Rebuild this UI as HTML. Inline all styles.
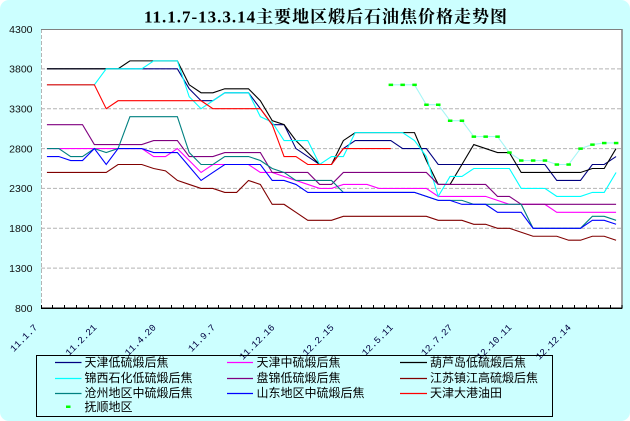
<!DOCTYPE html>
<html><head><meta charset="utf-8"><style>
html,body{margin:0;padding:0;background:#fff;}
svg{display:block;}
</style></head><body>
<svg width="630" height="421" viewBox="0 0 630 421" xmlns="http://www.w3.org/2000/svg">
<rect x="0" y="0" width="630" height="421" rx="9" ry="9" fill="#CCFFFF"/>
<text x="144" y="22.5" textLength="363" lengthAdjust="spacing" font-family="'Liberation Serif','Noto Serif CJK SC',serif" font-weight="bold" font-size="17" fill="#000">11.1.7-13.3.14主要地区煅后石油焦价格走势图</text>
<rect x="41" y="29" width="581" height="279" fill="#fff"/>
<g stroke="#b4b4b4" stroke-width="1" stroke-dasharray="4,2" fill="none">
<line x1="41" y1="68.9" x2="621" y2="68.9"/>
<line x1="41" y1="108.7" x2="621" y2="108.7"/>
<line x1="41" y1="148.6" x2="621" y2="148.6"/>
<line x1="41" y1="188.4" x2="621" y2="188.4"/>
<line x1="41" y1="228.3" x2="621" y2="228.3"/>
<line x1="41" y1="268.1" x2="621" y2="268.1"/>
<line x1="41.5" y1="29" x2="41.5" y2="308"/>
</g>
<line x1="41" y1="29.5" x2="622" y2="29.5" stroke="#808080" stroke-width="1"/>
<line x1="622" y1="29" x2="622" y2="309" stroke="#808080" stroke-width="1.5"/>
<line x1="41" y1="308.2" x2="622" y2="308.2" stroke="#000" stroke-width="1.5"/>
<path stroke="#000" stroke-width="1" fill="none" d="M41.5 305V308M52.5 305V308M64.5 305V308M76.5 305V308M88.5 305V308M100.5 305V308M112.5 305V308M124.5 305V308M135.5 305V308M147.5 305V308M159.5 305V308M171.5 305V308M183.5 305V308M195.5 305V308M207.5 305V308M218.5 305V308M230.5 305V308M242.5 305V308M254.5 305V308M266.5 305V308M278.5 305V308M290.5 305V308M301.5 305V308M313.5 305V308M325.5 305V308M337.5 305V308M349.5 305V308M361.5 305V308M373.5 305V308M384.5 305V308M396.5 305V308M408.5 305V308M420.5 305V308M432.5 305V308M444.5 305V308M456.5 305V308M467.5 305V308M479.5 305V308M491.5 305V308M503.5 305V308M515.5 305V308M527.5 305V308M539.5 305V308M550.5 305V308M562.5 305V308M574.5 305V308M586.5 305V308M598.5 305V308M610.5 305V308M622 305V308"/>
<g font-family="'Liberation Sans',sans-serif" font-size="10.5" fill="#111" text-anchor="end">
<text x="32.5" y="32.8">4300</text>
<text x="32.5" y="72.7">3800</text>
<text x="32.5" y="112.5">3300</text>
<text x="32.5" y="152.4">2800</text>
<text x="32.5" y="192.2">2300</text>
<text x="32.5" y="232.1">1800</text>
<text x="32.5" y="271.9">1300</text>
<text x="32.5" y="311.8">800</text>
</g>
<g font-family="'Liberation Mono',monospace" font-size="9.5" fill="#000040" text-anchor="end">
<text transform="translate(37.9,328) rotate(-45)">11.1.7</text>
<text transform="translate(97.2,328) rotate(-45)">11.2.21</text>
<text transform="translate(156.5,328) rotate(-45)">11.4.20</text>
<text transform="translate(215.8,328) rotate(-45)">11.9.7</text>
<text transform="translate(275.1,328) rotate(-45)">11.12.16</text>
<text transform="translate(334.4,328) rotate(-45)">12.2.15</text>
<text transform="translate(393.6,328) rotate(-45)">12.5.11</text>
<text transform="translate(452.9,328) rotate(-45)">12.7.27</text>
<text transform="translate(512.2,328) rotate(-45)">12.10.11</text>
<text transform="translate(571.5,328) rotate(-45)">12.12.14</text>
</g>
<g transform="matrix(11.857 0 0 -0.07971 46.93 371.75)" fill="none" stroke-width="1.1" stroke-linejoin="miter">
<polyline vector-effect="non-scaling-stroke" stroke="#a6f6f6" points="29,3600 31,3600 32,3350 33,3350 34,3150 35,3150 36,2950 38,2950 39,2750 40,2650 42,2650 43,2600 44,2600 45,2800 46,2850 47,2870 48,2870"/>
<polyline vector-effect="non-scaling-stroke" stroke="#000080" points="0,3800 11,3800 12,3550 13,3400 14,3400 15,3500 17,3500 18,3300 19,3100 20,3100 21,2800 22,2700 23,2600 24,2600 25,2800 26,2900 29,2900 30,2800 32,2800 33,2600 42,2600 43,2400 45,2400 46,2600 47,2600 48,2700"/>
<polyline vector-effect="non-scaling-stroke" stroke="#FF00FF" points="0,2800 8,2800 9,2700 10,2700 11,2800 12,2650 13,2500 14,2600 17,2600 18,2500 19,2500 20,2450 21,2400 22,2350 23,2300 24,2300 25,2350 27,2350 28,2300 32,2300 33,2200 37,2200 38,2150 39,2100 42,2100 43,2000 48,2000"/>
<polyline vector-effect="non-scaling-stroke" stroke="#000000" points="0,3800 6,3800 7,3900 11,3900 12,3600 13,3500 14,3500 15,3550 17,3550 18,3400 19,3150 20,3100 21,2900 22,2750 23,2600 24,2600 25,2900 26,3000 31,3000 32,2650 33,2350 34,2350 35,2600 36,2850 37,2800 38,2750 39,2750 40,2500 45,2500 46,2550 47,2550 48,2800"/>
<polyline vector-effect="non-scaling-stroke" stroke="#00FFFF" points="0,3600 4,3600 5,3800 8,3800 9,3900 11,3900 12,3450 13,3300 14,3400 15,3500 17,3500 18,3200 19,3130 20,2900 22,2900 23,2600 24,2700 25,2700 26,3000 30,3000 31,2900 32,2700 33,2200 34,2450 35,2450 36,2550 39,2550 40,2300 42,2300 43,2200 45,2200 46,2250 47,2250 48,2500"/>
<polyline vector-effect="non-scaling-stroke" stroke="#800080" points="0,3100 3,3100 4,2850 8,2850 9,2900 11,2900 12,2700 14,2700 15,2750 18,2750 19,2500 22,2500 23,2350 24,2350 25,2500 32,2500 33,2350 37,2350 38,2200 39,2200 40,2100 48,2100"/>
<polyline vector-effect="non-scaling-stroke" stroke="#800000" points="0,2500 5,2500 6,2600 8,2600 9,2550 10,2520 11,2400 12,2350 13,2300 14,2300 15,2250 16,2250 17,2400 18,2350 19,2100 20,2100 21,2000 22,1900 24,1900 25,1950 32,1950 33,1900 35,1900 36,1850 37,1850 38,1800 39,1800 40,1750 41,1700 43,1700 44,1650 45,1650 46,1700 47,1700 48,1650"/>
<polyline vector-effect="non-scaling-stroke" stroke="#008080" points="0,2800 1,2800 2,2700 3,2700 4,2800 5,2750 6,2800 7,3200 11,3200 12,2750 13,2600 14,2600 15,2700 17,2700 18,2650 19,2550 20,2500 21,2400 24,2400 25,2250 31,2250 32,2200 33,2150 35,2150 36,2100 40,2100 41,1800 45,1800 46,1950 47,1950 48,1900"/>
<polyline vector-effect="non-scaling-stroke" stroke="#0000FF" points="0,2700 1,2700 2,2650 3,2650 4,2800 5,2600 6,2800 8,2800 9,2750 11,2750 12,2575 13,2400 14,2500 15,2600 18,2600 19,2400 20,2400 21,2350 22,2250 31,2250 32,2200 33,2150 34,2150 35,2100 37,2100 38,2000 40,2000 41,1800 45,1800 46,1900 47,1900 48,1850"/>
<polyline vector-effect="non-scaling-stroke" stroke="#FF0000" points="0,3600 4,3600 5,3300 6,3400 13,3400 14,3300 18,3300 19,3100 20,2700 21,2700 22,2600 24,2600 25,2800 29,2800"/>
</g>
<g fill="#00FF00">
<rect x="388.6" y="83.6" width="4.5" height="2.5"/>
<rect x="400.4" y="83.6" width="4.5" height="2.5"/>
<rect x="412.3" y="83.6" width="4.5" height="2.5"/>
<rect x="424.2" y="103.5" width="4.5" height="2.5"/>
<rect x="436.0" y="103.5" width="4.5" height="2.5"/>
<rect x="447.9" y="119.5" width="4.5" height="2.5"/>
<rect x="459.7" y="119.5" width="4.5" height="2.5"/>
<rect x="471.6" y="135.4" width="4.5" height="2.5"/>
<rect x="483.4" y="135.4" width="4.5" height="2.5"/>
<rect x="495.3" y="135.4" width="4.5" height="2.5"/>
<rect x="507.2" y="151.3" width="4.5" height="2.5"/>
<rect x="519.0" y="159.3" width="4.5" height="2.5"/>
<rect x="530.9" y="159.3" width="4.5" height="2.5"/>
<rect x="542.7" y="159.3" width="4.5" height="2.5"/>
<rect x="554.6" y="163.3" width="4.5" height="2.5"/>
<rect x="566.4" y="163.3" width="4.5" height="2.5"/>
<rect x="578.3" y="147.4" width="4.5" height="2.5"/>
<rect x="590.2" y="143.4" width="4.5" height="2.5"/>
<rect x="602.0" y="141.8" width="4.5" height="2.5"/>
<rect x="613.9" y="141.8" width="4.5" height="2.5"/>
</g>
<rect x="36.5" y="355.5" width="516" height="61" fill="none" stroke="#000" stroke-width="1"/>
<g stroke-width="1.2">
<line x1="55" y1="362.5" x2="81.5" y2="362.5" stroke="#000080"/>
<line x1="55" y1="378.5" x2="81.5" y2="378.5" stroke="#00FFFF"/>
<line x1="55" y1="393.5" x2="81.5" y2="393.5" stroke="#008080"/>
<line x1="227" y1="362.5" x2="253" y2="362.5" stroke="#FF00FF"/>
<line x1="227" y1="378.5" x2="253" y2="378.5" stroke="#800080"/>
<line x1="227" y1="393.5" x2="253" y2="393.5" stroke="#0000FF"/>
<line x1="400" y1="362.5" x2="427" y2="362.5" stroke="#000000"/>
<line x1="400" y1="378.5" x2="427" y2="378.5" stroke="#800000"/>
<line x1="400" y1="393.5" x2="427" y2="393.5" stroke="#FF0000"/>
</g>
<rect x="66" y="405.5" width="4.5" height="2.5" fill="#00FF00"/>
<g font-family="'Liberation Sans','Noto Sans CJK SC',sans-serif" font-size="12" fill="#000">
<text x="84.5" y="366.5">天津低硫煅后焦</text>
<text x="84.5" y="382">锦西石化低硫煅后焦</text>
<text x="84.5" y="397">沧州地区中硫煅后焦</text>
<text x="84.5" y="411">抚顺地区</text>
<text x="256.5" y="366.5">天津中硫煅后焦</text>
<text x="256.5" y="382">盘锦低硫煅后焦</text>
<text x="256.5" y="397">山东地区中硫煅后焦</text>
<text x="430" y="366.5">葫芦岛低硫煅后焦</text>
<text x="430" y="382">江苏镇江高硫煅后焦</text>
<text x="430" y="397">天津大港油田</text>
</g>
</svg>
</body></html>
